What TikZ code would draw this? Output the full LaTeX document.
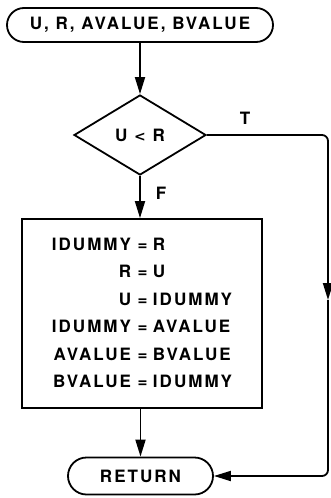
\documentclass[tikz,border=0pt]{standalone}
\usepackage{fontspec}
\setmainfont{TeX Gyre Heros}[LetterSpace=12]
\newfontfamily\symfont{DejaVu Sans}
\usetikzlibrary{shapes.geometric,shapes.misc,arrows.meta}
\begin{document}
\begin{tikzpicture}[x=1pt,y=-1pt,
  every node/.style={font=\bfseries\fontsize{17}{27.5}\selectfont},
  ln/.style={line width=1.8pt},
  arr/.style={ln,-{Triangle[length=17pt,width=10pt]}},
  term/.style={draw,ln,rounded rectangle,inner sep=0pt},
  cond/.style={draw,ln,diamond,inner sep=0pt,minimum width=132pt,minimum height=80pt},
  proc/.style={draw,ln,rectangle,inner sep=0pt,minimum width=240pt,minimum height=189pt},
  lbl/.style={inner sep=0pt}]
\useasboundingbox (0,0) rectangle (330,498);
\node[term,minimum width=266pt,minimum height=34pt] (start) at (140,25) {U, R, AVALUE, BVALUE};
\node[cond] (d) at (140,135) {U {\symfont\bfseries\fontsize{14}{14}\selectfont<} R};
\node[proc] (box) at (142,313.5) {%
  \begin{tabular}{@{}r@{\hspace{6.5pt}=\hspace{5.5pt}}l@{}}
  IDUMMY & R\\
  R & U\\
  U & IDUMMY\\
  IDUMMY & AVALUE\\
  AVALUE & BVALUE\\
  BVALUE & IDUMMY
  \end{tabular}};
\node[term,minimum width=145pt,minimum height=37pt] (ret) at (140.5,476) {RETURN};
\node[lbl] (t) at (245,118) {T};
\node[lbl] (f) at (161,193) {F};
\coordinate (tr) at (328,135);
\coordinate (mid) at (328,300);
\coordinate (br) at (328,476);
\draw[arr] (start.south) -- (d.north);
\draw[arr] (d.south) -- (d.south |- box.north);
\draw[arr] (ret.north |- box.south) -- (ret.north);
\draw[arr,rounded corners=6pt] (d.east) -- (tr) -- (mid);
\draw[arr,rounded corners=6pt] (mid) -- (br) -- (ret.east);
\end{tikzpicture}
\end{document}
